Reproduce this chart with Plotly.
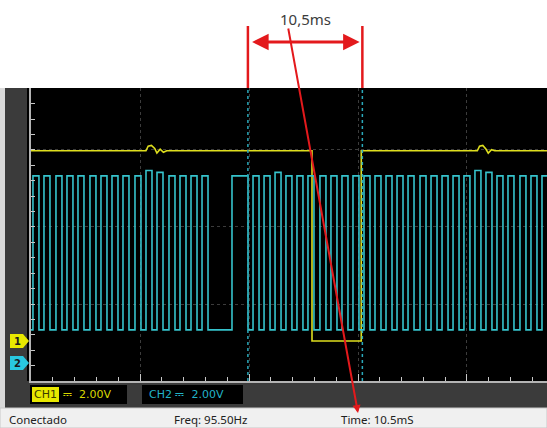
import plotly.graph_objects as go

# ---------------- data (time in ms, voltage in V) ----------------
ch1_t = [0.0, 10.55, 10.75, 11.05, 11.35, 11.55, 11.85, 12.15, 12.45,
         25.78, 25.78, 30.30, 30.30, 40.95, 41.15, 41.45, 41.75, 41.95, 42.25, 42.55, 47.34]
ch1_v = [4.94, 4.94, 5.06, 5.08, 5.00, 4.88, 4.98, 4.90, 4.94,
         4.94, 0.0, 0.0, 4.94, 4.94, 5.06, 5.08, 4.98, 4.88, 4.97, 4.94, 4.94]

ch2_rise = [0.18, 1.19, 2.29, 3.30, 4.31, 5.41, 6.42, 7.43, 8.44, 9.54, 10.55, 11.56,
            12.66, 13.67, 14.68, 15.69, 18.44,
            20.37, 21.38, 22.39, 23.39, 24.40, 25.41, 26.51, 27.52, 28.53, 29.54, 30.55,
            31.56, 32.57, 33.58, 34.59, 35.69, 36.70, 37.71, 38.72, 39.72, 40.73, 41.74,
            42.75, 43.76, 44.86, 45.87, 46.88]
ch2_fall = [0.73, 1.74, 2.84, 3.85, 4.86, 5.96, 6.97, 7.98, 8.99, 10.09, 11.10, 12.11,
            13.21, 14.22, 15.23, 16.24, 19.91,
            20.92, 21.93, 22.94, 23.94, 24.95, 25.96, 27.06, 28.07, 29.08, 30.09, 31.10,
            32.11, 33.12, 34.13, 35.14, 36.24, 37.25, 38.26, 39.27, 40.27, 41.28, 42.29,
            43.30, 44.31, 45.41, 46.42, 47.43]
ch2_high = [4.86, 4.86, 4.86, 4.86, 4.86, 4.86, 4.86, 4.86, 4.86, 4.86, 5.00, 4.95,
            4.86, 4.86, 4.86, 4.86, 4.86,
            4.86, 4.86, 4.95, 4.86, 4.86, 4.86, 4.86, 4.86, 4.86, 4.86, 4.86,
            4.86, 4.86, 4.86, 4.86, 4.86, 4.86, 4.86, 4.86, 4.86, 5.00, 4.95,
            4.86, 4.86, 4.86, 4.86, 4.86]
ch2_low = 0.86

cursor_ms = [19.9, 30.4]
delta_label = "10,5ms"
ch_names = ["CH1", "CH2"]
ch_scales = ["2.00V", "2.00V"]
status_texts = ["Conectado", "Freq: 95.50Hz", "Time: 10.5mS"]

# ---------------- geometry helpers ----------------
W, H = 547, 428
L, T, R, B = 31, 88, 547, 381
PW, PH = R - L, B - T


def px(x):
    return (x - L) / PW


def py(y):
    return (B - y) / PH


X_MAX = 47.34
Y1 = [-1.039, 6.571]
Y2 = [-0.468, 7.143]

YEL = "#dede1e"
CYA = "#36c3cc"
RED = "#e3191c"

# ---------------- traces ----------------
x2, y2 = [0.0], [ch2_low]
for r, f, h in zip(ch2_rise, ch2_fall, ch2_high):
    x2 += [r, r, f, f]
    y2 += [ch2_low, h, h, ch2_low]

fig = go.Figure()
fig.add_trace(go.Scatter(x=x2, y=y2, mode="lines", yaxis="y2",
                         line=dict(color=CYA, width=1.6), hoverinfo="skip"))
fig.add_trace(go.Scatter(x=ch1_t, y=ch1_v, mode="lines",
                         line=dict(color=YEL, width=1.6), hoverinfo="skip"))

shapes = []
# frame pieces
shapes.append(dict(type="rect", xref="paper", yref="paper", x0=px(0), x1=px(5), y0=py(408), y1=py(88),
                   fillcolor="#d9d9d9", line_width=0, layer="below"))
shapes.append(dict(type="rect", xref="paper", yref="paper", x0=px(5), x1=px(27), y0=py(408), y1=py(88),
                   fillcolor="#3b3b3b", line_width=0, layer="below"))
shapes.append(dict(type="rect", xref="paper", yref="paper", x0=px(27), x1=px(31), y0=py(381), y1=py(88),
                   fillcolor="#000000", line_width=0, layer="below"))
shapes.append(dict(type="rect", xref="paper", yref="paper", x0=px(27), x1=px(547), y0=py(408), y1=py(381),
                   fillcolor="#3b3b3b", line_width=0, layer="below"))
shapes.append(dict(type="rect", xref="paper", yref="paper", x0=px(0), x1=px(547), y0=py(428), y1=py(408),
                   fillcolor="#f0f0f0", line=dict(color="#c8c8c8", width=1), layer="below"))
# channel scale boxes
shapes.append(dict(type="rect", xref="paper", yref="paper", x0=px(30), x1=px(127), y0=py(404), y1=py(385),
                   fillcolor="#000000", line_width=0))
shapes.append(dict(type="rect", xref="paper", yref="paper", x0=px(32), x1=px(59), y0=py(402), y1=py(387),
                   fillcolor="#e8e800", line_width=0))
shapes.append(dict(type="rect", xref="paper", yref="paper", x0=px(142), x1=px(243), y0=py(404), y1=py(385),
                   fillcolor="#000000", line_width=0))
# channel ground markers
for gy, col in [(341, "#e8e800"), (363, "#29c8e0")]:
    path = (f"M {px(10)},{py(gy-7)} L {px(23)},{py(gy-7)} L {px(29)},{py(gy)} "
            f"L {px(23)},{py(gy+7)} L {px(10)},{py(gy+7)} Z")
    shapes.append(dict(type="path", xref="paper", yref="paper", path=path,
                       fillcolor=col, line_width=0))
# cursors
for c in cursor_ms:
    shapes.append(dict(type="line", xref="x", yref="paper", x0=c, x1=c, y0=0, y1=1,
                       line=dict(color="#2aa9bb", width=1.5, dash="dot")))
    shapes.append(dict(type="line", xref="x", yref="paper", x0=c, x1=c, y0=1.0, y1=py(26),
                       line=dict(color=RED, width=2.5)))

annotations = []
annotations.append(dict(xref="x", yref="paper", x=cursor_ms[1] - 0.25, y=py(42),
                        axref="x", ax=cursor_ms[0] + 0.25, ayref="pixel", ay=0,
                        text="", showarrow=True, arrowside="end+start", arrowhead=2,
                        arrowsize=1.1, arrowwidth=3, arrowcolor=RED, standoff=0, startstandoff=0))
annotations.append(dict(xref="x", yref="paper", x=sum(cursor_ms) / 2, y=py(19),
                        xanchor="center", yanchor="middle",
                        text=delta_label, showarrow=False,
                        font=dict(family="Noto Sans", size=15, color="#3c3c3c")))
annotations.append(dict(xref="paper", yref="paper", x=px(358), y=py(413),
                        ax=-70, ay=-386, text="", showarrow=True, arrowhead=2,
                        arrowsize=0.8, arrowwidth=2, arrowcolor=RED, standoff=0))
# channel marker numbers
for gy, t in [(341, "1"), (363, "2")]:
    annotations.append(dict(xref="paper", yref="paper", x=px(17.5), y=py(gy), text=f"<b>{t}</b>",
                            xanchor="center", yanchor="middle",
                            showarrow=False, font=dict(family="DejaVu Sans", size=10, color="#1a1a1a")))
# scale labels
annotations.append(dict(xref="paper", yref="paper", x=px(45.5), y=py(394.5), text=ch_names[0],
                        xanchor="center", yanchor="middle",
                        showarrow=False, font=dict(family="DejaVu Sans", size=11, color="#3a3a00")))
annotations.append(dict(xref="paper", yref="paper", x=px(61), y=py(394.5), xanchor="left",
                        yanchor="middle",
                        text="⎓  " + ch_scales[0], showarrow=False,
                        font=dict(family="DejaVu Sans", size=11, color="#d8d800")))
annotations.append(dict(xref="paper", yref="paper", x=px(147), y=py(394.5), xanchor="left",
                        yanchor="middle",
                        text=ch_names[1] + " ⎓  " + ch_scales[1], showarrow=False,
                        font=dict(family="DejaVu Sans", size=11, color="#22b4c8")))
# status bar
for xx, t in zip([7, 172, 339], status_texts):
    annotations.append(dict(xref="paper", yref="paper", x=px(xx), y=py(419), xanchor="left",
                            yanchor="middle",
                            text=t, showarrow=False,
                            font=dict(family="Noto Sans", size=11.5, color="#202020")))

axis_common = dict(showticklabels=False, zeroline=False, ticks="inside", showline=True,
                   linecolor="#b4b4b4", linewidth=1.5, tickcolor="#c8c8c8",
                   showgrid=True, gridcolor="#3c3c3c", griddash="dot", gridwidth=1)

fig.update_layout(
    width=W, height=H, margin=dict(l=L, r=W - R, t=T, b=H - B),
    paper_bgcolor="#ffffff", plot_bgcolor="#000000", showlegend=False,
    xaxis=dict(range=[0, X_MAX], tick0=0, dtick=10, ticklen=7,
               minor=dict(dtick=2, ticklen=4, ticks="inside", tickcolor="#c8c8c8", showgrid=False),
               **axis_common),
    yaxis=dict(range=Y1, tick0=Y1[0], dtick=2, ticklen=4,
               minor=dict(dtick=0.4, tick0=Y1[0], ticklen=4, ticks="inside", tickcolor="#c8c8c8",
                          showgrid=False),
               **axis_common),
    yaxis2=dict(range=Y2, overlaying="y", visible=False),
    shapes=shapes, annotations=annotations,
)

fig.write_html("out.html", config={"displayModeBar": False},
               post_script="document.body.style.margin='0px';")
